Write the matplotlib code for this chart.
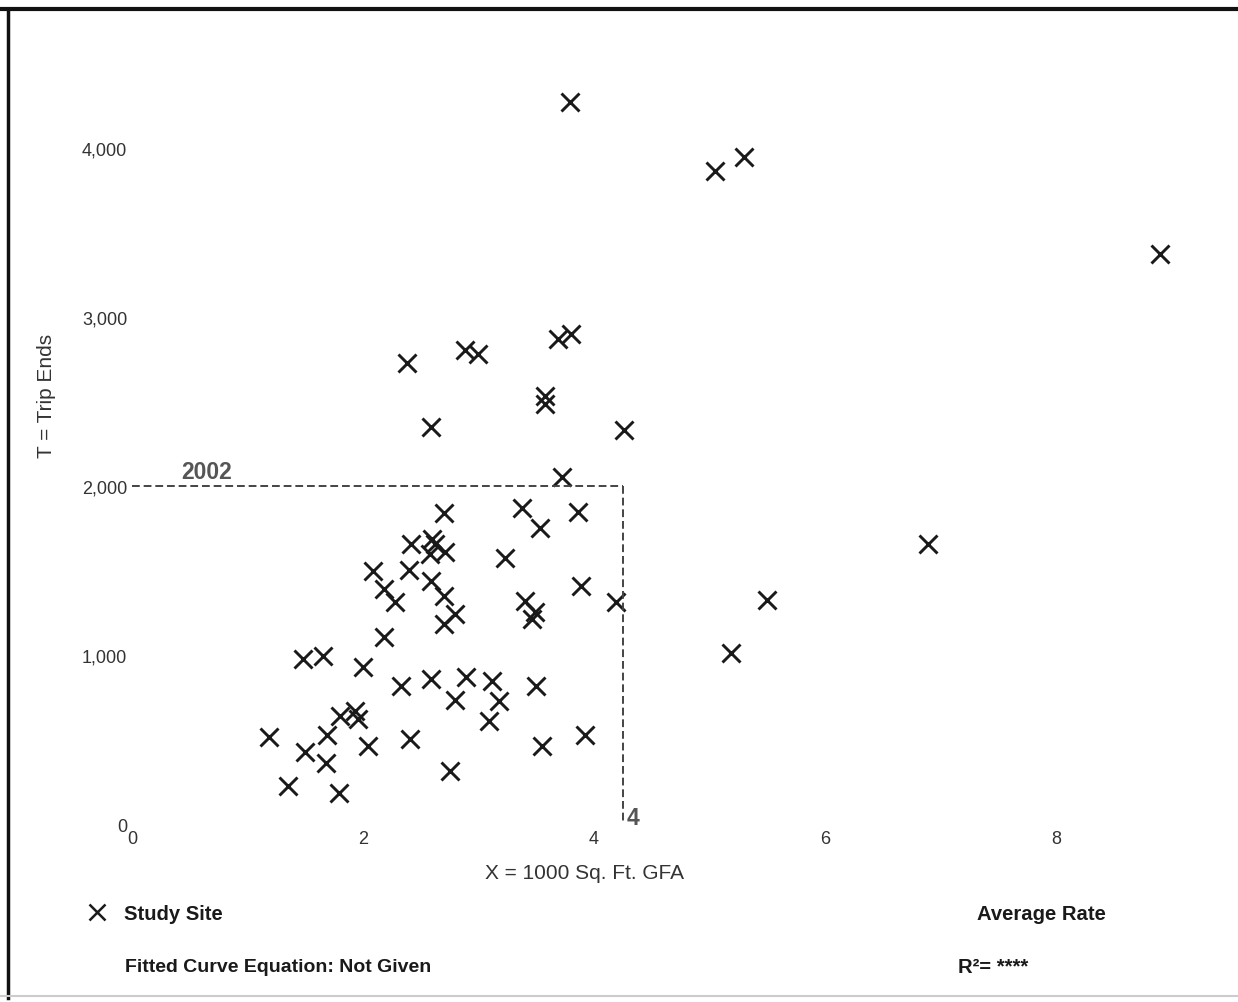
import matplotlib.pyplot as plt
from matplotlib.lines import Line2D

plt.rcParams['font.family'] = ['Liberation Sans', 'DejaVu Sans']

# Study sites: X = 1000 Sq. Ft. GFA, T = trip ends
gfa = [3.79, 5.05, 5.30, 8.90, 2.38, 2.88, 3.00, 3.69, 3.80, 3.58, 3.58, 2.59,
       4.26, 3.72, 6.89, 5.50, 5.19,
       2.70, 3.38, 3.53, 3.86, 2.42, 2.60, 2.62, 2.58, 2.71, 3.23, 2.09, 2.40,
       2.59, 2.70, 2.18, 2.28, 3.89, 4.19, 3.40, 3.49, 3.46, 2.80, 2.70, 2.18,
       1.48, 1.65, 2.00, 2.33, 2.59, 2.89, 3.12, 3.50, 2.80, 3.18, 3.09, 1.80,
       1.93, 1.96, 1.19, 1.69, 1.50, 2.04, 2.41, 1.68, 3.92, 3.55, 2.75, 1.35,
       1.79]
trips = [4268, 3860, 3943, 3370, 2726, 2803, 2779, 2868, 2897, 2531, 2484, 2348,
         2330, 2052, 1657, 1326, 1013,
         1840, 1868, 1750, 1844, 1657, 1686, 1657, 1598, 1608, 1574, 1499, 1505,
         1440, 1351, 1391, 1316, 1411, 1316, 1322, 1253, 1214, 1243, 1184, 1106,
         978, 997, 929, 816, 859, 869, 849, 820, 737, 731, 613, 643,
         672, 623, 515, 529, 427, 466, 505, 363, 529, 466, 318, 229,
         186]

x_ticks = [0, 2, 4, 6, 8]
y_ticks = [0, 1000, 2000, 3000, 4000]
y_ticklabels = ['0', '1,000', '2,000', '3,000', '4,000']

# example lookup shown with dashed guide lines
look_x = 4.25
look_t = 2000

fig = plt.figure(figsize=(12.38, 10.03), dpi=100)
ax = fig.add_axes([0.1066, 0.177, 0.863, 0.734])

ax.plot(gfa, trips, linestyle='none', marker='x', markersize=13,
        markeredgewidth=2.1, color='#1a1a1a')

# dashed guide lines
ax.plot([0, look_x], [look_t, look_t], linestyle=(0, (4, 2)), color='#444444', lw=1.4)
ax.plot([look_x, look_x], [look_t, 0], linestyle=(0, (4, 2)), color='#444444', lw=1.4)
ax.text(0.43, look_t + 15, '2002', fontsize=16.5, fontweight='bold', color='#555555',
        ha='left', va='bottom')
ax.text(look_x + 0.03, -25, '4', fontsize=16.5, fontweight='bold', color='#555555',
        ha='left', va='bottom')

ax.set_xlim(0, 9.25)
ax.set_ylim(0, 4350)
ax.set_xticks(x_ticks)
ax.set_yticks(y_ticks)
ax.set_yticklabels(y_ticklabels)
ax.tick_params(length=0, labelsize=13, labelcolor='#333333')
ax.tick_params(axis='x', pad=4)
ax.tick_params(axis='y', pad=3.5)
for s in ax.spines.values():
    s.set_visible(False)

ax.set_xlabel('X = 1000 Sq. Ft. GFA', fontsize=15, color='#333333')
ax.xaxis.set_label_coords(0.424, -0.052)
ax.set_ylabel('T = Trip Ends', fontsize=15, color='#333333')
ax.yaxis.set_label_coords(-0.071, 0.583)

# legend / footer
bold = dict(fontsize=14.6, fontweight='bold', color='#1a1a1a')
fig.add_artist(Line2D([97 / 1238], [1 - 913 / 1003], marker='x', markersize=12,
                      markeredgewidth=1.8, color='#1a1a1a', linestyle='none',
                      transform=fig.transFigure))
fig.text(124 / 1238, 1 - 915 / 1003, 'Study Site', va='center', **bold)
fig.text(977 / 1238, 1 - 915 / 1003, 'Average Rate', va='center', **bold)
fig.text(125 / 1238, 1 - 968 / 1003, 'Fitted Curve Equation: Not Given', va='center',
         fontsize=14.0, fontweight='bold', color='#1a1a1a')
fig.text(958 / 1238, 1 - 968 / 1003, 'R²= ****', va='center', **bold)

# outer frame
fig.add_artist(Line2D([0, 1], [1 - 10 / 1003] * 2, color='#111111', lw=3,
                      transform=fig.transFigure))
fig.add_artist(Line2D([8 / 1238] * 2, [1 - 10 / 1003, 0.004], color='#111111', lw=2.5,
                      transform=fig.transFigure))
fig.add_artist(Line2D([0, 1], [1 - 997 / 1003] * 2, color='#cccccc', lw=1.5,
                      transform=fig.transFigure))

fig.savefig('out.png', dpi=100)
